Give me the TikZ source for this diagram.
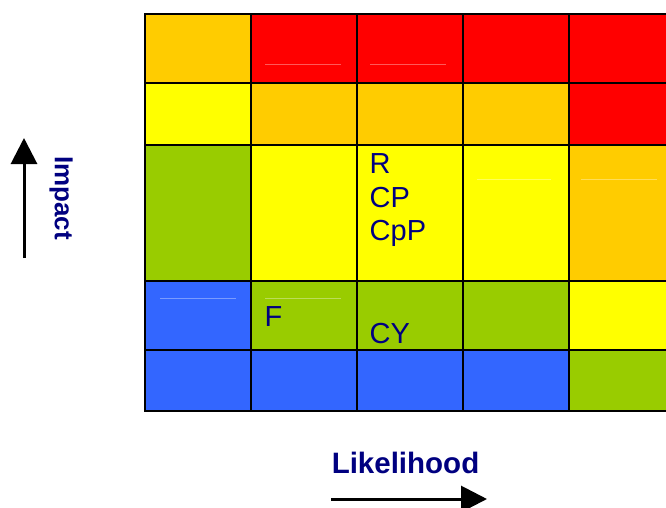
\documentclass[tikz,border=0pt]{standalone}
\usepackage{fontspec}
\setmainfont{Liberation Sans}
\usetikzlibrary{arrows.meta}

\definecolor{riskred}{RGB}{255,0,0}
\definecolor{riskorange}{RGB}{255,204,0}
\definecolor{riskyellow}{RGB}{255,255,0}
\definecolor{riskgreen}{RGB}{153,204,0}
\definecolor{riskblue}{RGB}{51,102,255}
\definecolor{labelblue}{RGB}{0,0,128}

\tikzset{
    gridline/.style={line width=2.2pt, black},
    faintline/.style={line width=0.8pt, white, opacity=0.35},
    risklabel/.style={inner sep=0pt, anchor=base west, text=labelblue,
        font=\fontsize{29}{33}\selectfont},
    axislabel/.style={inner sep=0pt, text=labelblue,
        font=\fontsize{26}{30}\selectfont\bfseries},
    axisarrow/.style={line width=3pt, -{Triangle[length=26pt, width=26pt]}}
}

\begin{document}
\begin{tikzpicture}[x=1pt, y=-1pt]
                    \useasboundingbox (0,0) rectangle (666,507);
                    \clip (0,0) rectangle (666,507);
                    % cells, row by row from the top
                    \foreach \ytop/\ybot/\shades in {
                        14/83/{riskorange,riskred,riskred,riskred,riskred},
                        83/145/{riskyellow,riskorange,riskorange,riskorange,riskred},
                        145/281/{riskgreen,riskyellow,riskyellow,riskyellow,riskorange},
                        281/350/{riskblue,riskgreen,riskgreen,riskgreen,riskyellow},
                        350/411/{riskblue,riskblue,riskblue,riskblue,riskgreen}}
                    {
                        \foreach \shade [count=\i] in \shades
                            \fill[\shade] ({39+106*\i},\ytop) rectangle ({145+106*\i},\ybot);
                    }
                    % grid
                    \draw[gridline] (145,14) rectangle (675,411);
                    \foreach \x in {251,357,463,569}
                        \draw[gridline] (\x,14) -- (\x,411);
                    \foreach \y in {83,145,281,350}
                        \draw[gridline] (145,\y) -- (675,\y);
                    % faint leftovers
                    \draw[faintline] (265,64.5) -- (341,64.5);
                    \draw[faintline] (370,64.5) -- (446,64.5);
                    \draw[faintline] (477,179) -- (551,179);
                    \draw[faintline] (581,179) -- (657,179);
                    \draw[faintline] (160,298) -- (236,298);
                    \draw[faintline] (265,298) -- (341,298);
                    % labels in the cells
                    \node[risklabel] (r) at (369.5,173) {R};
                    \node[risklabel] (cp) at (369.5,207) {CP};
                    \node[risklabel] (cpp) at (369.5,240) {CpP};
                    \node[risklabel] (f) at (264.5,326) {F};
                    \node[risklabel] (cy) at (369.5,343) {CY};
                    % axes
                    \node[axislabel, rotate=-90] (impact) at (61,198) {Impact};
                    \node[axislabel, anchor=base, font=\fontsize{29.5}{33}\selectfont\bfseries] (likelihood) at (405.5,473) {Likelihood};
                    \coordinate (impactfoot) at (24,258);
                    \coordinate (impacttip) at (24,138);
                    \draw[axisarrow] (impactfoot) -- (impacttip);
                    \coordinate (likelyfoot) at (331,499);
                    \coordinate (likelytip) at (487,499);
                    \draw[axisarrow] (likelyfoot) -- (likelytip);
                \end{tikzpicture}
\end{document}
